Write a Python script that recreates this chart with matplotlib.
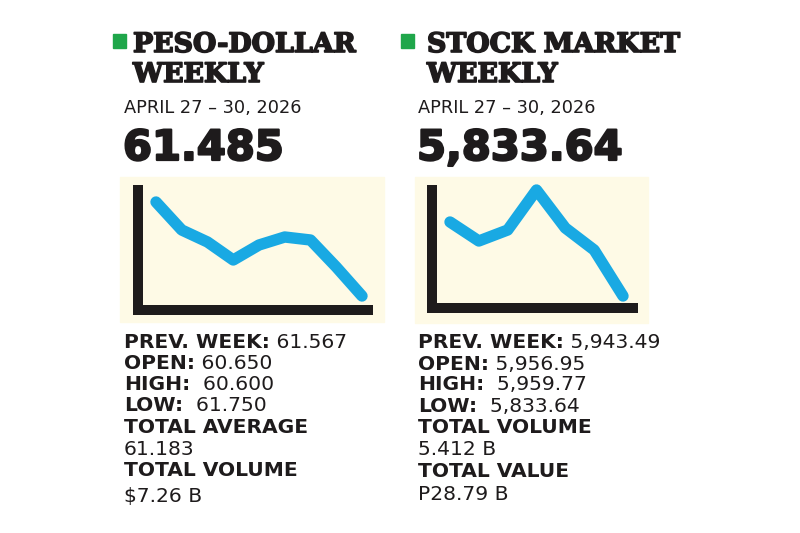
import matplotlib
matplotlib.use('Agg')
import matplotlib.pyplot as plt
import matplotlib.patheffects as pe
from matplotlib.patches import Rectangle

W, H = 800, 533

# ── data (relative weekly levels) ───────────────────
peso_level  = [108, 80, 68, 50, 65, 73, 70, 43, 14]
stock_level = [86, 67, 78, 118, 80, 58, 12]

panels = [
    dict(title=["PESO-DOLLAR", "WEEKLY"], dates="APRIL 27 \u2013 30, 2026", close="61.485",
         level=peso_level,
         rows=[("PREV. WEEK:", " 61.567"), ("OPEN:", " 60.650"), ("HIGH:", "  60.600"),
               ("LOW:", "  61.750"), ("TOTAL AVERAGE", ""), ("", "61.183"),
               ("TOTAL VOLUME", ""), ("", "$7.26 B")]),
    dict(title=["STOCK MARKET", "WEEKLY"], dates="APRIL 27 \u2013 30, 2026", close="5,833.64",
         level=stock_level,
         rows=[("PREV. WEEK:", " 5,943.49"), ("OPEN:", " 5,956.95"), ("HIGH:", "  5,959.77"),
               ("LOW:", "  5,833.64"), ("TOTAL VOLUME", ""), ("", "5.412 B"),
               ("TOTAL VALUE", ""), ("", "P28.79 B")]),
]

# ── layout in pixels ─────────────────────────────────────────────────────────
X0      = [124, 418]        # text left edge
SQ      = [113, 401]        # green square left edge
BG      = [(120, 177, 384, 322), (415, 177, 648, 323)]
AX      = [(138, 190, 368, 310), (432, 190, 633, 308)]
PTS_X   = [(156, 362), (450, 623)]
ROW_BL  = [[348, 369, 390, 411, 433, 455, 476, 502],
           [348, 370, 390, 412, 433, 455, 477, 500]]

GREEN = '#1FA64A'
BLUE  = '#19A9E3'
CREAM = '#FEFAE6'
INK   = '#1E1B1C'


def fx(x):
    return x / W


def fy(y):
    return 1 - y / H


fig = plt.figure(figsize=(W / 100, H / 100), dpi=100)
fig.patch.set_facecolor('white')
renderer = fig.canvas.get_renderer()

for i, p in enumerate(panels):
    # green bullet
    fig.patches.append(Rectangle((fx(SQ[i]), fy(48)), 13 / W, 14 / H,
                                 transform=fig.transFigure, color=GREEN))
    # slab title
    for j, line in enumerate(p["title"]):
        fig.text(fx(X0[i] + 9), fy(52 + 30 * j), line,
                 family='DejaVu Serif', weight='bold', fontsize=19.3, color=INK,
                 va='baseline', ha='left',
                 path_effects=[pe.withStroke(linewidth=1.2, foreground=INK)])
    fig.text(fx(X0[i]), fy(113), p["dates"], family='DejaVu Sans', fontsize=12.8,
             color=INK, va='baseline')
    fig.text(fx(X0[i] - 1), fy(160), p["close"], family='DejaVu Sans', weight='bold',
             fontsize=30, color=INK, va='baseline',
             path_effects=[pe.withStroke(linewidth=1.6, foreground=INK)])

    # cream backdrop
    l, t, r, b = BG[i]
    fig.patches.append(Rectangle((fx(l), fy(b)), (r - l) / W, (b - t) / H,
                                 transform=fig.transFigure, color=CREAM, zorder=0))

    # sparkline
    l, t, r, b = AX[i]
    ax = fig.add_axes([fx(l), fy(b), (r - l) / W, (b - t) / H], zorder=2)
    ax.patch.set_alpha(0)
    n = len(p["level"])
    xs = list(range(n))
    step = (PTS_X[i][1] - PTS_X[i][0]) / (n - 1)
    ax.set_xlim(-(PTS_X[i][0] - l) / step, n - 1 + (r - PTS_X[i][1]) / step)
    ax.set_ylim(0, b - t)
    ax.plot(xs, p["level"], color=BLUE, lw=8.2, solid_capstyle='round',
            solid_joinstyle='round', clip_on=False)
    for s in ['top', 'right']:
        ax.spines[s].set_visible(False)
    for s in ['left', 'bottom']:
        ax.spines[s].set_linewidth(7.2)
        ax.spines[s].set_color(INK)
        ax.spines[s].set_capstyle('projecting')
    ax.set_xticks([])
    ax.set_yticks([])

    # stats block
    for (lab, val), bl in zip(p["rows"], ROW_BL[i]):
        x = fx(X0[i])
        if lab:
            t_lab = fig.text(x, fy(bl), lab, family='DejaVu Sans', weight='bold',
                             fontsize=14.6, color=INK, va='baseline')
            x = fig.transFigure.inverted().transform(
                (t_lab.get_window_extent(renderer).x1, 0))[0]
        if val:
            fig.text(x, fy(bl), val, family='DejaVu Sans', fontsize=14.6,
                     color=INK, va='baseline')

fig.savefig('out.png', dpi=100, facecolor='white')
